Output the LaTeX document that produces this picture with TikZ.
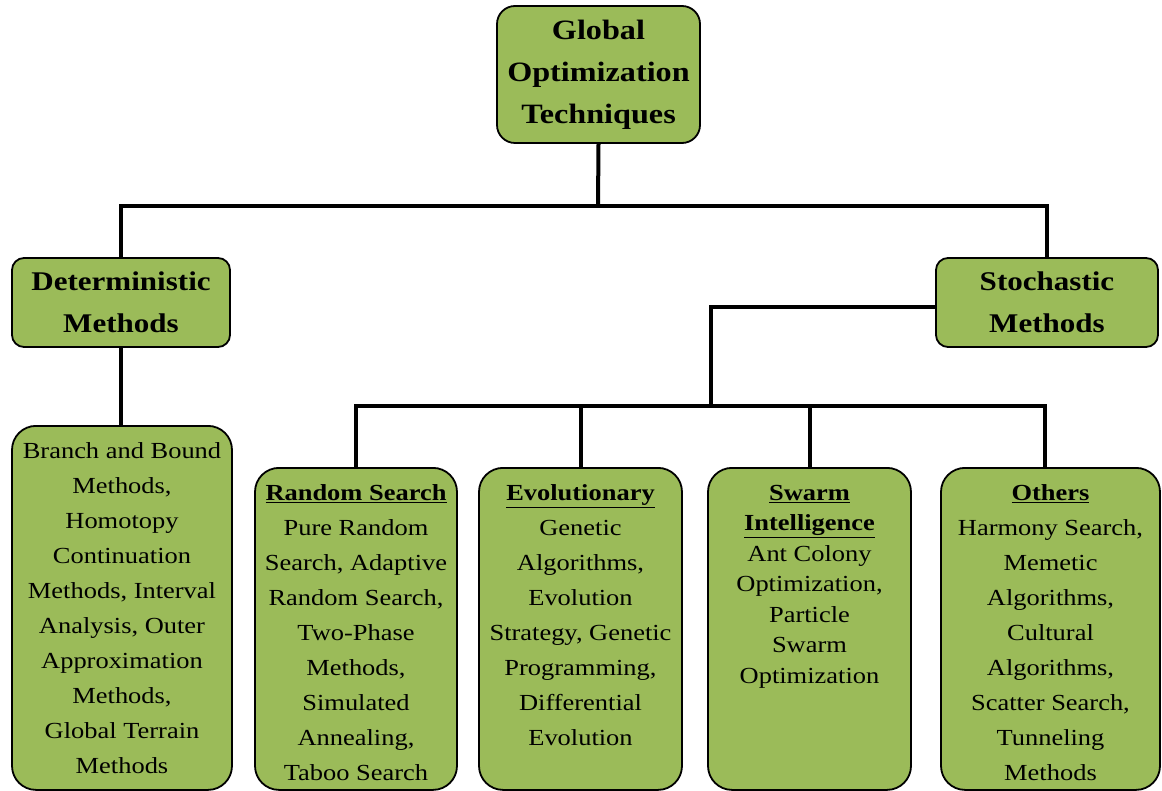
\documentclass[tikz,border=0pt]{standalone}
\usepackage{fontspec}
\setmainfont{Liberation Serif}[FakeStretch=1.15]
\usepackage{tikz}
\definecolor{gotFill}{HTML}{9BBB59}
\definecolor{gotLine}{HTML}{000000}
% text of a tall box, set from its top edge down
\newcommand{\leafbody}[2]{\parbox[t][#1][t]{200pt}{\centering\vspace{17pt}#2}}

\begin{document}
\begin{tikzpicture}[x=1pt,y=-1pt,
    box/.style={draw=gotLine, line width=1.8pt, fill=gotFill, align=center, inner sep=0pt},
    headbox/.style={box, rounded corners=12pt, font=\fontsize{27}{42}\selectfont\bfseries},
    leafbox/.style={box, rounded corners=24pt, anchor=north, font=\fontsize{23}{35}\selectfont},
    link/.style={line width=4pt, gotLine}]
    \useasboundingbox (0,0) rectangle (1162,791);

    % Root of the tree
    \node[box, rounded corners=18pt, minimum width=203pt, minimum height=137pt, font=\fontsize{28}{42}\selectfont\bfseries] at (598.5,74.5) (root) {Global\\Optimization\\Techniques};

    % Two main families
    \node[headbox, minimum width=218pt, minimum height=89pt] at (121,302.5) (det) {Deterministic\\Methods};
    \node[headbox, minimum width=222pt, minimum height=89pt] at (1047,302.5) (sto) {Stochastic\\Methods};

    % Deterministic list
    \node[leafbox, minimum width=220pt] at (122,425) (branch) {\leafbody{364pt}{Branch and Bound\\Methods,\\Homotopy\\Continuation\\Methods, Interval\\Analysis, Outer\\Approximation\\Methods,\\Global Terrain\\Methods}};

    % Stochastic groups
    \node[leafbox, minimum width=202pt] at (356,467) (random) {\leafbody{322pt}{\underline{\textbf{Random Search}}\\Pure Random\\Search, Adaptive\\Random Search,\\Two-Phase\\Methods,\\Simulated\\Annealing,\\Taboo Search}};
    \node[leafbox, minimum width=203pt] at (580.5,467) (evol) {\leafbody{322pt}{\underline{\textbf{Evolutionary}}\\Genetic\\Algorithms,\\Evolution\\Strategy, Genetic\\Programming,\\Differential\\Evolution}};
    \node[leafbox, minimum width=203pt, font=\fontsize{23}{30.5}\selectfont] at (809.5,467) (swarm) {\leafbody{322pt}{\underline{\textbf{Swarm}}\\\underline{\textbf{Intelligence}}\\Ant Colony\\Optimization,\\Particle\\Swarm\\Optimization}};
    \node[leafbox, minimum width=219pt] at (1050.5,467) (others) {\leafbody{322pt}{\underline{\textbf{Others}}\\Harmony Search,\\Memetic\\Algorithms,\\Cultural\\Algorithms,\\Scatter Search,\\Tunneling\\Methods}};

    % Junction points
    \coordinate (topbar) at (598,206);
    \coordinate (stobar) at (711,406);

    % Connectors
    \draw[link] (root.south) -- (topbar);
    \draw[link] (det.north) |- (topbar) -| (sto.north);
    \draw[link] (det.south) -- (det.south |- branch.north);
    \draw[link] ([yshift=-4.5pt]sto.west) -| (stobar);
    \draw[link] (random.north) |- (stobar) -| ([xshift=-6pt]others.north);
    \foreach \grp in {evol,swarm}
        \draw[link] (\grp.north) -- (\grp.north |- stobar);
\end{tikzpicture}
\end{document}
